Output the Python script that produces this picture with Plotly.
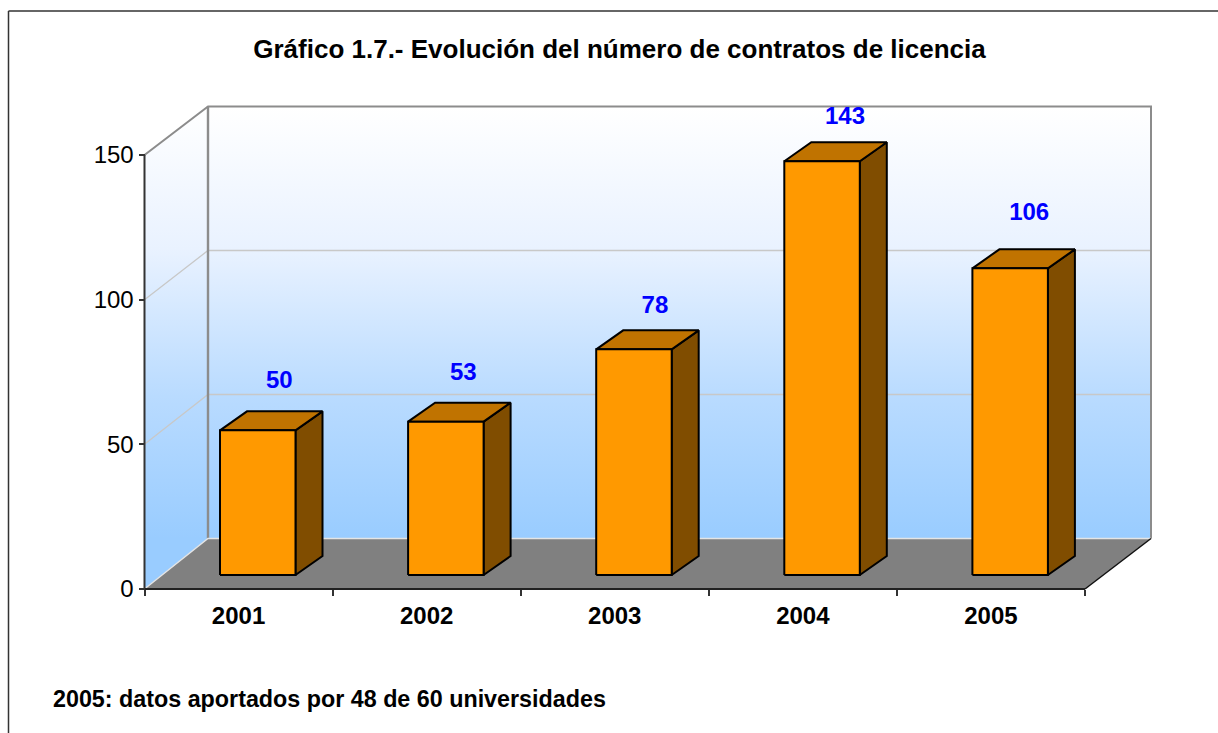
import plotly.graph_objects as go

# ---- data ----
years = ["2001", "2002", "2003", "2004", "2005"]
contracts = [50, 53, 78, 143, 106]
y_ticks = [0, 50, 100, 150]
title_text = "Gráfico 1.7.- Evolución del número de contratos de licencia"
note_text = "2005: datos aportados por 48 de 60 universidades"

# ---- scale of the chart on the page (pixels) ----
W, H = 1218, 733
X0, X5 = 144.5, 1085.0       # front edge of the floor: category 0..5
Y0, Y150 = 589.0, 155.0      # value 0 and value 150 on the front axis
PX_X = (X5 - X0) / 5
PX_Y = (Y0 - Y150) / 150


def ux(px):
    return px / PX_X


def uy(px):
    return px / PX_Y


# ---- 3D offsets, in pixels ----
BACK_DX_L, BACK_DX_R, BACK_DY = 63.5, 66.0, 50.5
BACK_SCALE = 0.9954          # the back wall is drawn very slightly smaller
BAR_OFFSET = 75.5            # first bar front-left, from axis origin
BAR_W = 75.5
BAR_LIFT = 14.0              # front bar base above the front edge
BAR_DX, BAR_DY = 27.0, 19.0
LABEL_DX = [21.5, 17.5, 21.0, 23.0, 19.0]
LABEL_DY = [48, 48, 42, 43, 54]

TOP = max(y_ticks)
xl, xr = 0.0, 5.0
bl, br, bd = ux(BACK_DX_L), ux(BACK_DX_R), uy(BACK_DY)


def back(v):
    return bd + v * BACK_SCALE


fig = go.Figure()


def poly(xs, ys, fill=None, line=None, lw=0, grad=None):
    kw = {}
    if grad is not None:
        kw["fillgradient"] = grad
    elif fill is not None:
        kw["fillcolor"] = fill
    fig.add_trace(go.Scatter(
        x=xs, y=ys, mode="lines", fill="toself" if (fill or grad) else "none",
        line=dict(color=line or "rgba(0,0,0,0)", width=lw),
        hoverinfo="skip", **kw))


def wall_gradient(start, stop):
    return dict(type="vertical", start=start, stop=stop,
                colorscale=[[0, "#99CCFF"], [0.33, "#B9DBFF"],
                            [0.67, "#E9F2FF"], [1, "#FFFFFF"]])


# walls
poly([xl + bl, xr + br, xr + br, xl + bl, xl + bl],
     [back(0), back(0), back(TOP), back(TOP), back(0)],
     grad=wall_gradient(back(0), back(TOP)))
poly([xl, xl + bl, xl + bl, xl, xl],
     [0, back(0), back(TOP), TOP, 0],
     grad=wall_gradient(back(0), back(TOP)))
# floor
poly([xl, xr, xr + br, xl + bl, xl], [0, 0, back(0), back(0), 0], fill="#808080")

# gridlines
for v in y_ticks[1:-1]:
    poly([xl, xl + bl, xr + br], [v, back(v), back(v)], line="#C8C8C8", lw=1.3)

# wall edges
poly([xl, xl + bl, xr + br, xr + br], [TOP, back(TOP), back(TOP), back(0)], line="#8C8C8C", lw=2)
poly([xl + bl, xl + bl], [back(TOP), back(0)], line="#8C8C8C", lw=2.4)
poly([xl, xl + bl, xr + br], [0, back(0), back(0)], line="#E4E4E4", lw=1.3)
poly([xr, xr + br], [0, back(0)], line="#111111", lw=1.5)

# front axes lines
poly([xl, xl], [0, TOP], line="#333333", lw=2)
poly([xl, xr], [0, 0], line="#222222", lw=2)

# bars
dx, dy = ux(BAR_DX), uy(BAR_DY)
lift, bw = uy(BAR_LIFT), ux(BAR_W)
for i, v in enumerate(contracts):
    L = i + ux(BAR_OFFSET)
    R = L + bw
    poly([R, R + dx, R + dx, R, R],
         [lift, lift + dy, v + lift + dy, v + lift, lift],
         fill="#804D00", line="#000000", lw=2)
    poly([L, R, R + dx, L + dx, L],
         [v + lift, v + lift, v + lift + dy, v + lift + dy, v + lift],
         fill="#C07300", line="#000000", lw=2)
    poly([L, R, R, L, L],
         [lift, lift, v + lift, v + lift, lift],
         fill="#FF9900", line="#000000", lw=2)

# value labels
fig.add_trace(go.Scatter(
    x=[i + ux(BAR_OFFSET) + bw / 2 + ux(d) for i, d in enumerate(LABEL_DX)],
    y=[v + uy(BAR_LIFT + d) for v, d in zip(contracts, LABEL_DY)],
    mode="text", text=[str(v) for v in contracts], textposition="middle center",
    textfont=dict(family="Liberation Sans", size=24, color="#0000FF", weight="bold"),
    cliponaxis=False, hoverinfo="skip"))

AXIS_FONT = dict(family="Liberation Sans", color="#000000")
fig.update_layout(
    width=W, height=H, autosize=False,
    margin=dict(l=0, r=0, t=0, b=0),
    paper_bgcolor="#FFFFFF", plot_bgcolor="#FFFFFF",
    showlegend=False, hovermode=False,
    title=dict(text="<b>%s</b>" % title_text, x=619.5 / W, y=1 - 49 / H,
               xanchor="center", yanchor="middle", xref="paper", yref="paper",
               font=dict(family="Liberation Sans", size=26, color="#000000")),
    xaxis=dict(
        range=[ux(-X0), ux(W - X0)], domain=[0, 1], anchor="free",
        position=1 - Y0 / H, showgrid=False, zeroline=False, showline=False,
        tickmode="array", tickvals=[i + 0.5 for i in range(len(years))],
        ticktext=["<b>%s</b>" % y for y in years], ticks="",
        ticklabelstandoff=10,
        tickfont=dict(size=24, **AXIS_FONT),
        minor=dict(tickmode="array", tickvals=list(range(len(years) + 1)),
                   ticks="outside", ticklen=6, tickwidth=1.5, tickcolor="#333333",
                   showgrid=False)),
    yaxis=dict(
        range=[uy(Y0 - H), uy(Y0)], domain=[0, 1], anchor="free",
        position=X0 / W, showgrid=False, zeroline=False, showline=False,
        tickmode="array", tickvals=y_ticks, ticktext=[str(v) for v in y_ticks],
        ticks="outside", ticklen=6, tickwidth=1.5, tickcolor="#333333",
        tickfont=dict(size=24, **AXIS_FONT)),
    annotations=[dict(
        text="<b>%s</b>" % note_text, xref="paper", yref="paper",
        x=51 / W, y=1 - 699 / H, xanchor="left", yanchor="middle", showarrow=False,
        font=dict(family="Liberation Sans", size=23.3, color="#000000"))],
    shapes=[
        dict(type="line", xref="paper", yref="paper", x0=8.5 / W, x1=1, y0=1 - 11 / H, y1=1 - 11 / H,
             line=dict(color="#333333", width=1.5)),
        dict(type="line", xref="paper", yref="paper", x0=8.5 / W, x1=8.5 / W, y0=1 - 11 / H, y1=0,
             line=dict(color="#333333", width=1.5)),
    ],
)

fig.write_html("out.html", config={"displayModeBar": False},
               post_script="document.body.style.margin='0';document.body.style.overflow='hidden';")
